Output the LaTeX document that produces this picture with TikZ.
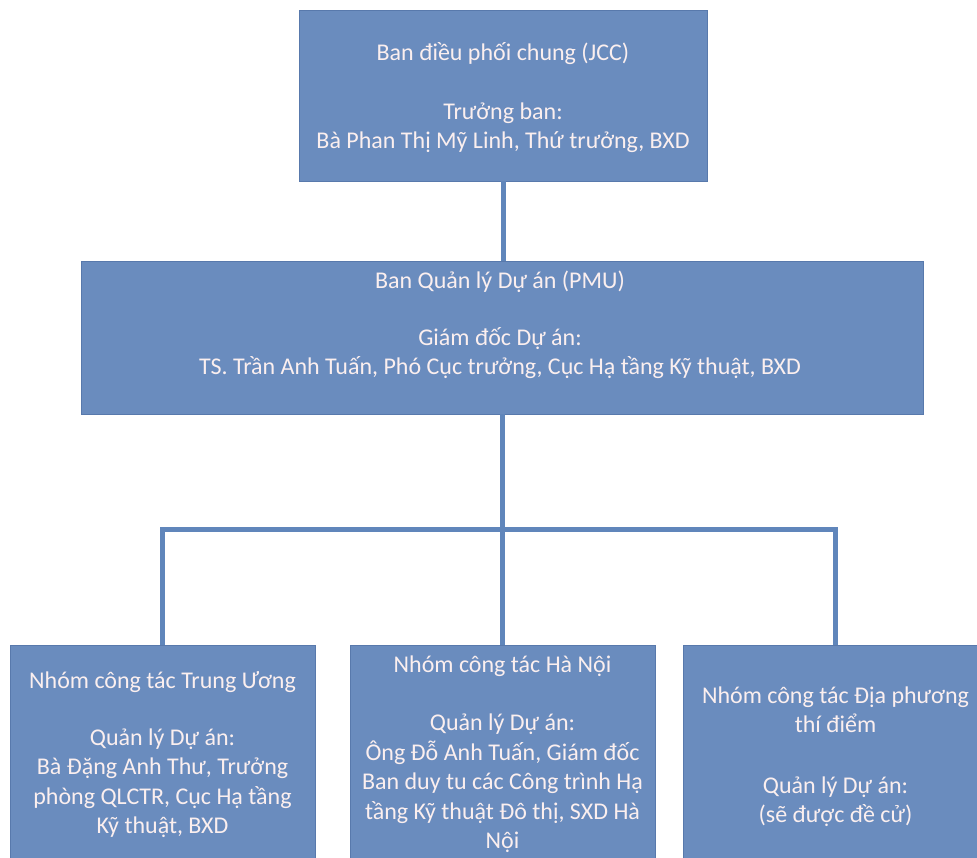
\documentclass[tikz,border=0pt]{standalone}
\usepackage{fontspec}
\setmainfont{Carlito}
\begin{document}
\begin{tikzpicture}[x=1pt,y=-1pt,
  box/.style={rectangle, draw=boxedge, line width=0.8pt, fill=boxfill,
    inner sep=0pt, outer sep=0pt},
  label/.style={align=center, text=boxtext, inner sep=0pt,
    font=\fontsize{24pt}{29.5pt}\selectfont},
  conn/.style={draw=linkblue, line width=5pt}]
  \definecolor{boxfill}{HTML}{6A8CBE}
  \definecolor{boxedge}{HTML}{5879AC}
  \definecolor{boxtext}{HTML}{FBEFEF}
  \definecolor{linkblue}{HTML}{6086BB}
  \useasboundingbox (0,0) rectangle (977,857);
  \clip (0,0) rectangle (977,857);
  \fill[white] (0,0) rectangle (977,857);

  % junction height of the branch line
  \coordinate (bus) at (502,529);

  % boxes
  \node[box, minimum width=408pt, minimum height=171pt] (jcc) at (503,95.5) {};
  \node[box, minimum width=842pt, minimum height=153pt] (pmu) at (502,337.5) {};
  \node[box, minimum width=305pt, minimum height=240pt] (tw) at (162.5,765) {};
  \node[box, minimum width=305pt, minimum height=240pt] (hn) at (502.5,765) {};
  \node[box, minimum width=305pt, minimum height=240pt] (dp) at (835.5,765) {};

  % connectors
  \draw[conn] (jcc.south) -- (jcc.south |- pmu.north);
  \draw[conn] (pmu.south -| hn.north) -- (hn.north);
  \draw[conn] (tw.north) -- (tw.north |- bus) -- (dp.north |- bus) -- (dp.north);

  % texts
  \node[label] (jcct) at (503,97.5)
    {Ban điều phối chung (JCC)\\[29.5pt]Trưởng ban:\\Bà Phan Thị Mỹ Linh, Thứ trưởng, BXD};
  \node[label] (pmut) at (500,325)
    {Ban Quản lý Dự án (PMU)\\[27pt]Giám đốc Dự án:\\TS. Trần Anh Tuấn, Phó Cục trưởng, Cục Hạ tầng Kỹ thuật, BXD};
  \node[label] (twt) at (162.5,755)
    {Nhóm công tác Trung Ương\\[27pt]Quản lý Dự án:\\Bà Đặng Anh Thư, Trưởng\\phòng QLCTR, Cục Hạ tầng\\Kỹ thuật, BXD};
  \node[label] (hnt) at (502.5,754)
    {Nhóm công tác Hà Nội\\[29pt]Quản lý Dự án:\\Ông Đỗ Anh Tuấn, Giám đốc\\Ban duy tu các Công trình Hạ\\tầng Kỹ thuật Đô thị, SXD Hà\\Nội};
  \node[label] (dpt) at (835.5,756.5)
    {Nhóm công tác Địa phương\\thí điểm\\[31pt]Quản lý Dự án:\\(sẽ được đề cử)};
\end{tikzpicture}
\end{document}
